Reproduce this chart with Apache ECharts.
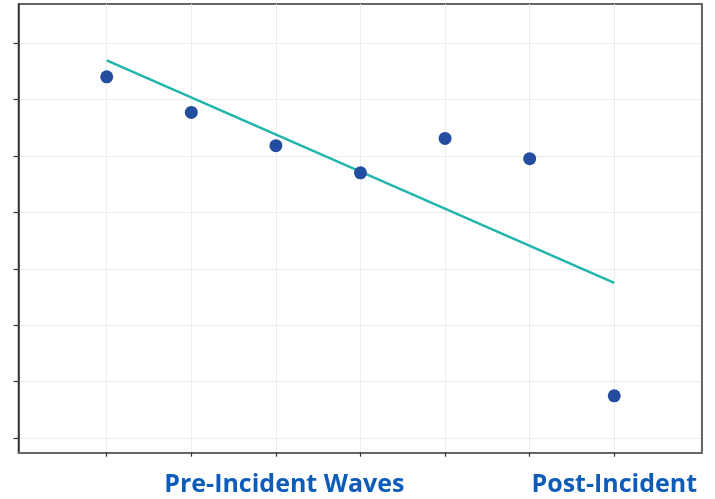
<!DOCTYPE html>
<html>
<head>
<meta charset="utf-8">
<script src="https://cdn.jsdelivr.net/npm/echarts@6/dist/echarts.min.js"></script>
<style>html,body{margin:0;padding:0;background:#fff}#c{width:715px;height:499px}</style>
</head>
<body>
<div id="c"></div>
<script>
// Data (arbitrary vertical units; axis carries no numeric labels)
const waves = [1, 2, 3, 4, 5, 6, 7];
const scores = [6.40, 5.77, 5.18, 4.70, 5.31, 4.95, 0.75];
const trendX = [1, 7];
const trendY = [6.69, 2.75];
const yTicks = [0, 1, 2, 3, 4, 5, 6, 7];
const groupLabels = ['Pre-Incident Waves', 'Post-Incident'];
const groupLabelPos = [3.1, 7];

const chart = echarts.init(document.getElementById('c'), null, {renderer: 'canvas'});
chart.setOption({
  animation: false,
  backgroundColor: '#fff',
  grid: {left: 18.5, top: 4, right: 13.3, bottom: 46.3, show: true, borderColor: '#333', borderWidth: 1.5, containLabel: false},
  xAxis: {
    type: 'value', min: -0.043, max: 8.034,
    axisLine: {show: true, onZero: false, lineStyle: {color: '#666', width: 2}},
    axisTick: {show: true, customValues: waves, length: 4, lineStyle: {color: '#333', width: 1.2}},
    splitLine: {show: true, lineStyle: {color: '#ececec', width: 1}},
    axisLabel: {
      show: true, customValues: groupLabelPos, margin: 20,
      formatter: v => groupLabels[groupLabelPos.indexOf(v)] || '',
      color: '#0d5cba', fontFamily: 'Open Sans', fontWeight: 'bold', fontSize: 25
    }
  },
  yAxis: [{
    type: 'value', min: -0.257, max: 7.69,
    axisLine: {show: true, onZero: false, lineStyle: {color: '#333', width: 1.5}},
    axisTick: {show: true, customValues: yTicks, length: 5, lineStyle: {color: '#333', width: 1.2}},
    splitLine: {show: true, lineStyle: {color: '#ececec', width: 1}},
    axisLabel: {show: false}
  }, {
    type: 'value', position: 'right', min: -0.257, max: 7.69,
    axisLine: {show: true, onZero: false, lineStyle: {color: '#666', width: 2}},
    axisTick: {show: false}, splitLine: {show: false}, axisLabel: {show: false}
  }],
  series: [{
    type: 'line', data: trendX.map((x, i) => [x, trendY[i]]),
    showSymbol: false, lineStyle: {color: '#22b5ad', width: 2.5}, z: 2
  }, {
    type: 'scatter', data: waves.map((x, i) => [x, scores[i]]),
    symbolSize: 13, itemStyle: {color: '#234ea0', opacity: 1}, z: 3
  }]
});
</script>
</body>
</html>
